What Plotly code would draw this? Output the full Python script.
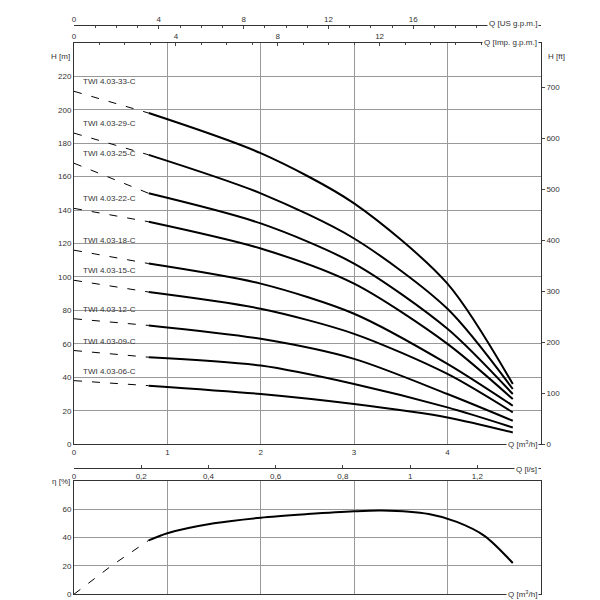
import plotly.graph_objects as go

q = [0.0, 0.8, 2.0, 3.0, 4.0, 4.7]
names = ["TWI 4.03-33-C", "TWI 4.03-29-C", "TWI 4.03-25-C", "TWI 4.03-22-C", "TWI 4.03-18-C",
         "TWI 4.03-15-C", "TWI 4.03-12-C", "TWI 4.03-09-C", "TWI 4.03-06-C"]
heads = [
    [211, 198, 174, 144, 96, 36],
    [186, 173, 150, 123, 81, 33],
    [168, 150, 132, 108, 69, 30],
    [141, 133, 117, 96, 60, 27],
    [116, 108, 96, 78, 48, 23],
    [98, 91, 81, 66, 42, 19],
    [75, 71, 63, 51, 30, 14],
    [56, 52, 47, 36, 22, 10],
    [38, 35, 30, 24, 16, 7],
]
eff_q_dash = [0.0, 0.4, 0.8]
eff_dash = [0, 20, 38]
eff_q = [0.8, 1.0, 1.5, 2.0, 2.5, 3.0, 3.3, 3.8, 4.1, 4.4, 4.7]
eff = [38, 43, 50, 54, 56.5, 58.5, 59, 56.5, 51, 41, 22]

C = "#333"
F = dict(family="Liberation Sans", size=8, color=C)
fig = go.Figure()
for n, h in zip(names, heads):
    fig.add_trace(go.Scatter(x=q[:2], y=h[:2], mode="lines", line=dict(color="black", width=1, dash="8px,10px"),
                             xaxis="x", yaxis="y", showlegend=False))
    fig.add_trace(go.Scatter(x=q[1:], y=h[1:], mode="lines", line=dict(color="black", width=2, shape="spline", smoothing=0.8),
                             xaxis="x", yaxis="y", showlegend=False))
    fig.add_annotation(x=0.07, y=h[0], text=n, xref="x", yref="y", showarrow=False, xanchor="left",
                       yanchor="bottom", yshift=3, font=F)
fig.add_trace(go.Scatter(x=eff_q_dash, y=eff_dash, mode="lines", line=dict(color="black", width=1, dash="8px,10px"),
                         xaxis="x4", yaxis="y3", showlegend=False))
fig.add_trace(go.Scatter(x=eff_q, y=eff, mode="lines", line=dict(color="black", width=2, shape="spline", smoothing=0.8),
                         xaxis="x4", yaxis="y3", showlegend=False))
for xa in ["x2", "x3", "x5"]:
    fig.add_trace(go.Scatter(x=[None], y=[None], xaxis=xa, yaxis="y", showlegend=False))
fig.add_trace(go.Scatter(x=[None], y=[None], xaxis="x", yaxis="y2", showlegend=False))

dom = [0.11, 0.888]
common = dict(showline=True, linecolor=C, tickfont=F, zeroline=False)
fig.update_layout(
    width=600, height=600, margin=dict(l=0, r=0, t=0, b=0, autoexpand=False),
    plot_bgcolor="white", paper_bgcolor="white",
    xaxis=dict(domain=dom, range=[0, 5], anchor="y", showgrid=True, gridcolor="#999", mirror=True,
               ticks="", tickvals=[0, 1, 2, 3, 4], **common),
    yaxis=dict(domain=[0.273, 0.942], range=[0, 240], tickvals=list(range(0, 221, 20)), showgrid=True,
               gridcolor="#999", ticks="", mirror=True, **common),
    yaxis2=dict(overlaying="y", side="right", range=[0, 240 * 3.2808], tickvals=list(range(0, 701, 100)),
                ticks="outside", ticklen=3, showgrid=False, anchor="x", tickfont=F, showline=False, zeroline=False),
    xaxis2=dict(overlaying="x", side="top", anchor="y", range=[0, 5 * 3.6661], tickvals=[0, 4, 8, 12],
                ticks="inside", ticklen=3, minor=dict(dtick=1, ticks="inside", ticklen=2), showgrid=False, **common),
    xaxis3=dict(overlaying="x", side="top", anchor="free", position=0.972, range=[0, 5 * 4.4029],
                tickvals=[0, 4, 8, 12, 16], ticks="inside", ticklen=3, minor=dict(dtick=1, ticks="inside", ticklen=2),
                showgrid=False, **common),
    xaxis5=dict(overlaying="x", side="bottom", anchor="free", position=0.233, range=[0, 5 / 3.6],
                tickvals=[0, 0.2, 0.4, 0.6, 0.8, 1, 1.2], ticktext=["0", "0,2", "0,4", "0,6", "0,8", "1", "1,2"],
                ticks="inside", ticklen=3, showgrid=False, **common),
    xaxis4=dict(domain=dom, range=[0, 5], anchor="y3", tickvals=[0, 1, 2, 3, 4], showgrid=True, gridcolor="#999",
                mirror=True, ticks="", **common),
    yaxis3=dict(domain=[0.023, 0.212], range=[0, 80], tickvals=[0, 20, 40, 60], showgrid=True, gridcolor="#999",
                mirror=True, ticks="", **common),
)
ann = [
    (0.888, 0.985, "Q [US g.p.m.]", "right"), (0.888, 0.953, "Q [Imp. g.p.m.]", "right"),
    (0.11, 0.93, "H [m]", "right"), (0.893, 0.93, "H [ft]", "left"),
    (0.888, 0.262, "Q [m<sup>3</sup>/h]", "right"), (0.888, 0.22, "Q [l/s]", "right"),
    (0.11, 0.2, "η [%]", "right"), (0.888, 0.012, "Q [m<sup>3</sup>/h]", "right"),
]
for x, y, t, a in ann:
    fig.add_annotation(x=x, y=y, xref="paper", yref="paper", text=t, showarrow=False, xanchor=a, font=F,
                       bgcolor="white", xshift=-2 if a == "right" else 2)
fig.write_html("out.html")
